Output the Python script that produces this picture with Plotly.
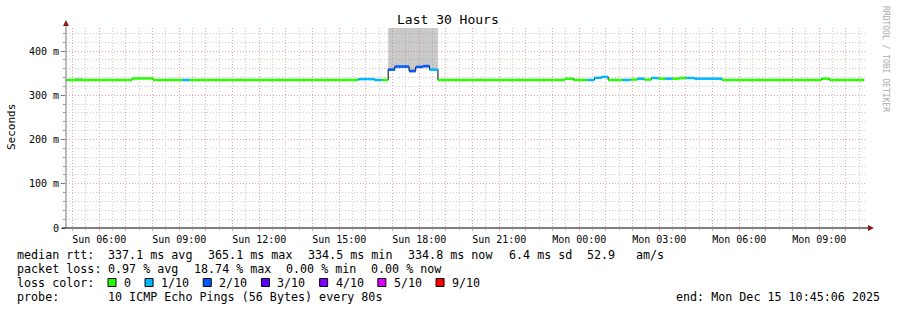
import plotly.graph_objects as go
import pandas as pd

# ---------------- data ----------------
seg_start = [
    "2025-12-14 04:46", "2025-12-14 07:14", "2025-12-14 08:01", "2025-12-14 09:06",
    "2025-12-14 09:23", "2025-12-14 15:43", "2025-12-14 16:19", "2025-12-14 16:35",
    "2025-12-14 16:50", "2025-12-14 17:05", "2025-12-14 17:37", "2025-12-14 17:52",
    "2025-12-14 18:08", "2025-12-14 18:23", "2025-12-14 18:42", "2025-12-14 23:28",
    "2025-12-14 23:47", "2025-12-15 00:18", "2025-12-15 00:34", "2025-12-15 00:50",
    "2025-12-15 01:05", "2025-12-15 01:37", "2025-12-15 01:55", "2025-12-15 02:11",
    "2025-12-15 02:26", "2025-12-15 02:42", "2025-12-15 02:58", "2025-12-15 03:13",
    "2025-12-15 03:29", "2025-12-15 03:45", "2025-12-15 04:01", "2025-12-15 04:19",
    "2025-12-15 05:21", "2025-12-15 09:05", "2025-12-15 09:23",
]
data_end = "2025-12-15 10:41"
median_ms = [
    334.5, 338.0, 334.5, 334.5, 334.5, 336.5, 334.5, 334.5, 358.0, 365.0,
    355.0, 364.0, 366.0, 358.0, 334.5, 337.5, 334.5, 334.5, 339.5, 341.5,
    334.5, 334.5, 335.5, 337.5, 335.5, 339.0, 337.5, 337.5, 337.5, 339.0,
    339.0, 337.5, 334.5, 337.5, 334.5,
]
loss_level = [
    0, 0, 0, 1, 0, 1, 1, 0, 2, 2,
    2, 2, 2, 1, 0, 0, 0, 1, 1, 1,
    0, 1, 0, 1, 0, 1, 0, 1, 0, 0,
    1, 1, 0, 0, 0,
]
smoke_start = ["2025-12-14 05:06", "2025-12-14 16:50", "2025-12-14 17:05", "2025-12-14 17:37",
               "2025-12-14 17:52", "2025-12-14 18:23"]
smoke_end = ["2025-12-14 05:22", "2025-12-14 17:05", "2025-12-14 17:37", "2025-12-14 17:52",
             "2025-12-14 18:23", "2025-12-14 18:42"]
smoke_low = [335.0, 355.0, 361.0, 350.0, 361.0, 355.0]
smoke_high = [339.5, 480.0, 480.0, 480.0, 480.0, 480.0]

loss_labels = ["0", "1/10", "2/10", "3/10", "4/10", "5/10", "9/10"]
loss_colors = ["#26ff00", "#00b8ff", "#0059ff", "#5e00ff", "#7e00ff", "#dd00ff", "#ff0000"]

y_tick_vals = [0, 100, 200, 300, 400]
y_tick_text = ["0", "100 m", "200 m", "300 m", "400 m"]

range_start = "2025-12-14 04:45:06"
range_end = "2025-12-15 10:45:06"

stats_line1 = [("median rtt:", 16), ("337.1 ms avg", 107), ("365.1 ms max", 207),
               ("334.5 ms min", 307), ("334.8 ms now", 407), ("6.4 ms sd", 508),
               ("52.9", 586), ("am/s", 635)]
stats_line2 = [("packet loss:", 16), ("0.97 % avg", 107), ("18.74 % max", 193),
               ("0.00 % min", 285), ("0.00 % now", 370)]
probe_text = "10 ICMP Echo Pings (56 Bytes) every 80s"
end_text = "end: Mon Dec 15 10:45:06 2025"

# ---------------- layout geometry ----------------
W, H = 897, 310
L, R, T, B = 66, 31, 28, 82
PW, PH = W - L - R, H - T - B
FONT = "DejaVu Sans Mono"


def px(x):
    return (x - L) / PW


def py(y):
    return (H - B - y) / PH


fig = go.Figure()

# smoke
for s, e, lo, hi in zip(smoke_start, smoke_end, smoke_low, smoke_high):
    fig.add_trace(go.Scatter(x=[s, e, e, s, s], y=[lo, lo, hi, hi, lo], mode="lines",
                             fill="toself", fillcolor="rgba(140,140,140,0.47)",
                             line=dict(width=0), hoverinfo="skip", showlegend=False))

# black median step line
fig.add_trace(go.Scatter(x=seg_start + [data_end], y=median_ms + [median_ms[-1]],
                         mode="lines", line=dict(color="black", width=1, shape="hv"),
                         hoverinfo="skip", showlegend=False))

# coloured loss bands
seg_end = seg_start[1:] + [data_end]
for lvl, col in enumerate(loss_colors):
    xs, ys = [], []
    for s, e, v, l in zip(seg_start, seg_end, median_ms, loss_level):
        if l == lvl:
            xs += [s, e, None]
            ys += [v, v, None]
    if xs:
        fig.add_trace(go.Scatter(x=xs, y=ys, mode="lines", line=dict(color=col, width=2.5),
                                 hoverinfo="skip", showlegend=False))

hours = pd.date_range("2025-12-14 05:00", "2025-12-15 10:00", freq="1h")
x_tick_vals = [h.strftime("%Y-%m-%d %H:%M") for h in hours]
x_tick_text = [h.strftime("%a %H:%M") if h.hour % 3 == 0 else "" for h in hours]

MAJ = "#f0a0a0"
MIN = "#cccccc"
DASH = "1px,2px"

fig.update_layout(
    width=W, height=H, margin=dict(l=L, r=R, t=T, b=B, pad=0),
    paper_bgcolor="white", plot_bgcolor="white",
    font=dict(family=FONT, size=10, color="black"),
    xaxis=dict(type="date", range=[range_start, range_end], tickmode="array",
               tickvals=x_tick_vals, ticktext=x_tick_text, showgrid=True,
               gridcolor=MAJ, griddash=DASH, gridwidth=1, ticks="outside", ticklen=2,
               tickcolor=MAJ, showline=False, zeroline=False,
               tickfont=dict(family=FONT, size=10),
               minor=dict(dtick=1800000, tick0="2025-12-14 05:00", showgrid=True,
                          gridcolor=MIN, griddash=DASH, ticks="outside", ticklen=2,
                          tickcolor=MIN)),
    yaxis=dict(range=[0, 452], tickmode="array", tickvals=y_tick_vals, ticktext=y_tick_text,
               showgrid=True, gridcolor=MAJ, griddash=DASH, ticks="outside", ticklen=4,
               tickcolor="#777777", showline=False, zeroline=False,
               tickfont=dict(family=FONT, size=10),
               minor=dict(dtick=20, showgrid=True, gridcolor=MIN, griddash=DASH,
                          ticks="outside", ticklen=2, tickcolor="#999999")),
)

shapes = []
# axis lines
shapes.append(dict(type="line", xref="paper", yref="paper", x0=0, x1=0, y0=py(228), y1=py(24),
                   line=dict(color="#777777", width=1)))
shapes.append(dict(type="line", xref="paper", yref="paper", x0=px(62), x1=px(868), y0=0, y1=0,
                   line=dict(color="black", width=1)))
ARROW = "#8b1a1a"
shapes.append(dict(type="path", xref="paper", yref="paper",
                   path=f"M {px(63)} {py(26)} L {px(69)} {py(26)} L {px(66)} {py(20)} Z",
                   fillcolor=ARROW, line=dict(width=0)))
shapes.append(dict(type="path", xref="paper", yref="paper",
                   path=f"M {px(868)} {py(225)} L {px(868)} {py(231)} L {px(874)} {py(228)} Z",
                   fillcolor=ARROW, line=dict(width=0)))

annotations = []


def text(s, x, y, size=11.7, anchor="left", color="black", angle=0):
    annotations.append(dict(text=s, x=px(x), y=py(y), xref="paper", yref="paper",
                            xanchor=anchor, yanchor="middle", showarrow=False,
                            textangle=angle, borderpad=0,
                            font=dict(family=FONT, size=size, color=color)))


text("Last 30 Hours", 448, 19.5, size=13, anchor="center")
text("Seconds", 11, 127, size=11, anchor="center", angle=-90)
text("RRDTOOL / TOBI OETIKER", 886, 59, size=8, anchor="center", color="#aaaaaa", angle=90)

for s, x in stats_line1:
    text(s, x, 254.5)
for s, x in stats_line2:
    text(s, x, 268.5)
text("loss color:", 16, 282.5)

bx = 108.0
for lab, col in zip(loss_labels, loss_colors):
    shapes.append(dict(type="rect", xref="paper", yref="paper", x0=px(bx), x1=px(bx + 8),
                       y0=py(278.5), y1=py(286.5), fillcolor=col,
                       line=dict(color="black", width=1)))
    lx = bx + 15
    text(lab, lx, 282.5)
    bx = lx + len(lab) * 7.05 + 15

text("probe:", 16, 296.5)
text(probe_text, 107, 296.5)
text(end_text, 881, 296.5, anchor="right")

fig.update_layout(shapes=shapes, annotations=annotations)
fig.write_html("out.html")
